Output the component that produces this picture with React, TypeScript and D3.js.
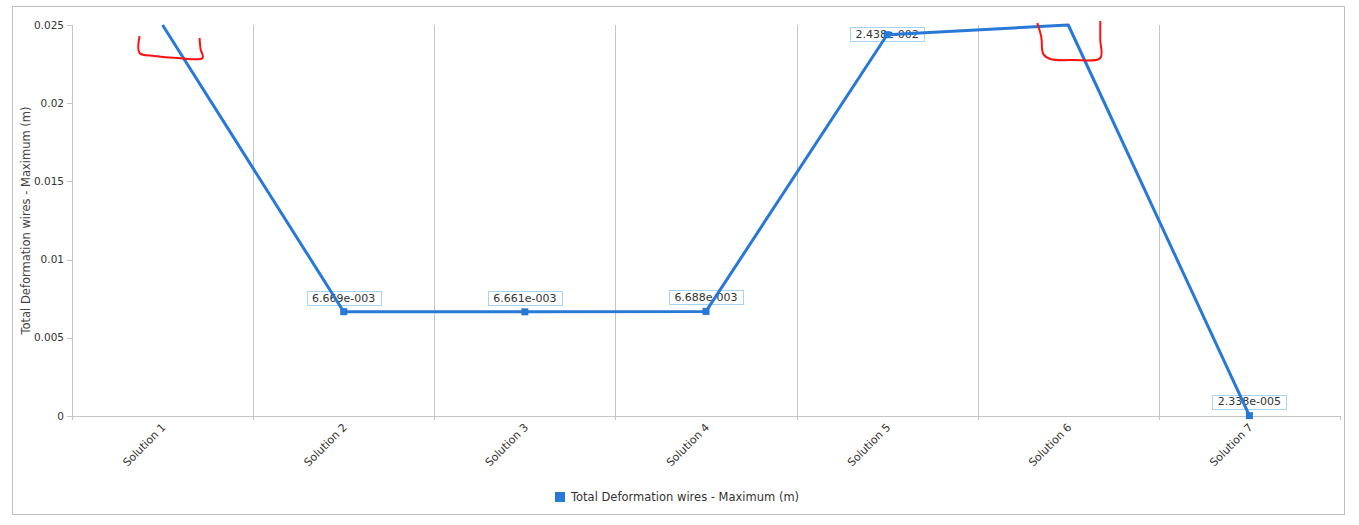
import { useEffect, useRef } from "react";
import * as d3 from "d3";

const categories = ["Solution 1", "Solution 2", "Solution 3", "Solution 4", "Solution 5", "Solution 6", "Solution 7"];
const deformation = [0.025, 0.006669, 0.006661, 0.006688, 0.02438, 0.025, 0.00002338];
const pointLabels = ["", "6.669e-003", "6.661e-003", "6.688e-003", "2.438e-002", "", "2.338e-005"];
const yTicks = [0, 0.005, 0.01, 0.015, 0.02, 0.025];
const seriesName = "Total Deformation wires - Maximum (m)";

export default function App() {
  const svgRef = useRef<SVGSVGElement>(null);

  useEffect(() => {
    document.body.style.margin = "0";
    if (!svgRef.current) return;
    const svg = d3.select(svgRef.current);
    svg.selectAll("*").remove();

    const left = 72;
    const right = 1340;
    const top = 25;
    const bottom = 416;
    const font = "DejaVu Sans, Verdana, sans-serif";
    const blue = "#2878d8";
    const gridColor = "#c4c4c4";

    // outer frame
    svg
      .append("rect")
      .attr("x", 12.5)
      .attr("y", 6.5)
      .attr("width", 1332)
      .attr("height", 508)
      .attr("fill", "#fff")
      .attr("stroke", "#c0c0c0");

    const x = d3.scaleBand<string>().domain(categories).range([left, right]).padding(0);
    const y = d3.scaleLinear().domain([0, 0.025]).range([bottom, top]);
    const cx = (c: string) => (x(c) ?? 0) + x.bandwidth() / 2;

    // vertical grid lines between categories
    svg
      .append("g")
      .selectAll("line")
      .data(categories.slice(1))
      .join("line")
      .attr("x1", (d) => Math.round(x(d) ?? 0) + 0.5)
      .attr("x2", (d) => Math.round(x(d) ?? 0) + 0.5)
      .attr("y1", top)
      .attr("y2", bottom + 4)
      .attr("stroke", gridColor);

    // right end tick
    svg
      .append("line")
      .attr("x1", right + 0.5)
      .attr("x2", right + 0.5)
      .attr("y1", bottom)
      .attr("y2", bottom + 4)
      .attr("stroke", gridColor);

    // axes lines
    svg
      .append("line")
      .attr("x1", left + 0.5)
      .attr("x2", left + 0.5)
      .attr("y1", top)
      .attr("y2", bottom + 4)
      .attr("stroke", gridColor);
    svg
      .append("line")
      .attr("x1", left)
      .attr("x2", right + 1)
      .attr("y1", bottom + 0.5)
      .attr("y2", bottom + 0.5)
      .attr("stroke", gridColor);

    // y ticks
    const yt = svg.append("g").selectAll("g").data(yTicks).join("g");
    yt.append("line")
      .attr("x1", left - 5)
      .attr("x2", left)
      .attr("y1", (d) => Math.round(y(d)) + 0.5)
      .attr("y2", (d) => Math.round(y(d)) + 0.5)
      .attr("stroke", gridColor);
    yt.append("text")
      .attr("x", left - 8)
      .attr("y", (d) => y(d))
      .attr("dy", "0.35em")
      .attr("text-anchor", "end")
      .attr("font-family", font)
      .attr("font-size", "10.5px")
      .attr("fill", "#333")
      .text((d) => String(d));

    // y title
    svg
      .append("text")
      .attr("transform", `translate(30, ${(top + bottom) / 2}) rotate(-90)`)
      .attr("text-anchor", "middle")
      .attr("font-family", font)
      .attr("font-size", "11.5px")
      .attr("fill", "#444")
      .text(seriesName);

    // x labels
    svg
      .append("g")
      .selectAll("text")
      .data(categories)
      .join("text")
      .attr("transform", (d) => `translate(${cx(d) + 4}, ${bottom + 12}) rotate(-45)`)
      .attr("text-anchor", "end")
      .attr("font-family", font)
      .attr("font-size", "11px")
      .attr("fill", "#333")
      .text((d) => d);

    const pts = categories.map((c, i) => ({ c, v: deformation[i], label: pointLabels[i] }));
    const inRange = pts.filter((p) => p.v < 0.025);

    // data labels (drawn beneath line)
    const lg = svg.append("g").selectAll("g").data(inRange.filter((p) => p.label)).join("g");
    lg.each(function (p) {
      const g = d3.select(this);
      const px = cx(p.c);
      const cy = Math.max(y(p.v) - 14, top + 9);
      const t = g
        .append("text")
        .attr("x", px)
        .attr("y", cy)
        .attr("dy", "0.35em")
        .attr("text-anchor", "middle")
        .attr("font-family", font)
        .attr("font-size", "11px")
        .attr("fill", "#333")
        .text(p.label);
      const w = (t.node() as SVGTextElement).getComputedTextLength() + 11;
      g.insert("rect", "text")
        .attr("x", Math.round(px - w / 2) + 0.5)
        .attr("y", Math.round(cy - 7) + 0.5)
        .attr("width", Math.round(w))
        .attr("height", 14)
        .attr("fill", "#fff")
        .attr("stroke", "#a9d3f2");
    });

    // line
    const line = d3
      .line<{ c: string; v: number }>()
      .x((d) => cx(d.c))
      .y((d) => y(Math.min(d.v, 0.025)));
    svg
      .append("path")
      .datum(pts)
      .attr("d", line)
      .attr("fill", "none")
      .attr("stroke", blue)
      .attr("stroke-width", 3)
      .attr("stroke-linejoin", "round");

    // markers
    svg
      .append("g")
      .selectAll("rect")
      .data(inRange)
      .join("rect")
      .attr("x", (d) => cx(d.c) - 3.5)
      .attr("y", (d) => y(d.v) - 3.5)
      .attr("width", 7)
      .attr("height", 7)
      .attr("fill", blue);

    // hand-drawn red annotations near clipped points
    const red = d3.line().curve(d3.curveCatmullRom);
    const c1 = cx(categories[0]);
    const c6 = cx(categories[5]);
    const yTop = y(0.025);
    const ann1: [number, number][] = [
      [c1 - 23, yTop + 11], [c1 - 23, yTop + 28], [c1 - 8, yTop + 31], [c1 + 15, yTop + 33], [c1 + 40, yTop + 33], [c1 + 38, yTop + 24], [c1 + 37, yTop + 13],
    ];
    const ann6: [number, number][] = [
      [c6 - 31, yTop - 2], [c6 - 27, yTop + 12], [c6 - 25, yTop + 29], [c6 - 18, yTop + 34], [c6 + 5, yTop + 35], [c6 + 32, yTop + 33], [c6 + 32, yTop + 15], [c6 + 32, yTop - 4],
    ];
    [ann1, ann6].forEach((a) => {
      svg
        .append("path")
        .attr("d", red(a))
        .attr("fill", "none")
        .attr("stroke", "#ff1010")
        .attr("stroke-width", 2);
    });

    // legend
    const lx = 555;
    const ly = 497;
    svg
      .append("rect")
      .attr("x", lx)
      .attr("y", ly - 5)
      .attr("width", 10)
      .attr("height", 10)
      .attr("fill", blue);
    svg
      .append("text")
      .attr("x", lx + 16)
      .attr("y", ly)
      .attr("dy", "0.35em")
      .attr("font-family", font)
      .attr("font-size", "11.5px")
      .attr("fill", "#333")
      .text(seriesName);
  }, []);

  return <svg ref={svgRef} width={1359} height={525} style={{ display: "block" }} />;
}
